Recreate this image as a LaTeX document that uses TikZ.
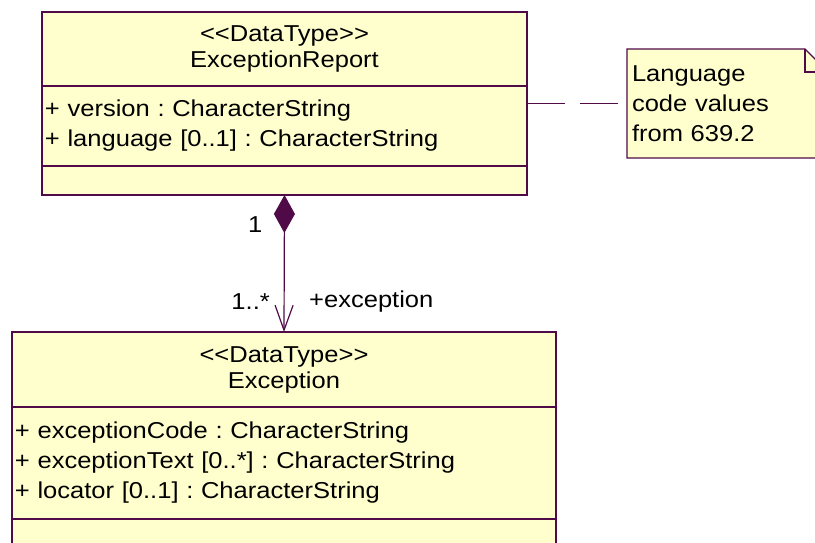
\documentclass[tikz,border=0pt]{standalone}
\usepackage{fontspec}
\setmainfont{Liberation Sans}[FakeStretch=1.11]
\usepackage{tikz}
\usetikzlibrary{arrows.meta, positioning, backgrounds}
\definecolor{colorLine}{RGB}{80,10,72}
\definecolor{colorFill}{RGB}{255,255,206}
\frenchspacing
\tikzset{
  umlline/.style={draw=colorLine, line width=1.2pt},
  umlbox/.style={umlline, fill=colorFill, inner xsep=3pt, inner ysep=0pt, outer sep=0pt},
  namebox/.style={umlbox, align=center, font=\fontsize{23}{26}\selectfont},
  attrbox/.style={umlbox, align=left, font=\fontsize{23}{30}\selectfont},
  notebox/.style={inner xsep=5pt, inner ysep=0pt, outer sep=0pt, align=left, font=\fontsize{23}{30}\selectfont},
  rolelabel/.style={inner sep=0pt, font=\fontsize{23}{26}\selectfont}
}

\begin{document}
\begin{tikzpicture}[x=1pt, y=1pt]
\useasboundingbox (0,0) rectangle (815,-543);
\node[namebox, text width=479pt, minimum height=74pt, anchor=north west] (rptName) at (42,-12) {<{}<DataType>{}>\\ExceptionReport};
\node[attrbox, text width=479pt, minimum height=80pt, below=0pt of rptName] (rptAttr) {+ version : CharacterString\\+ language [0..1] : CharacterString};
\node[umlbox, text width=479pt, minimum height=29pt, below=0pt of rptAttr] (rptOps) {};
\node[namebox, text width=538pt, minimum height=75pt, anchor=north west] (exName) at (12,-332) {<{}<DataType>{}>\\Exception};
\node[attrbox, text width=538pt, minimum height=112pt, below=0pt of exName] (exAttr) {+ exceptionCode : CharacterString\\+ exceptionText [0..*] : CharacterString\\+ locator [0..1] : CharacterString};
\node[umlbox, text width=538pt, minimum height=29pt, below=0pt of exAttr] (exOps) {};
\node[notebox, text width=191pt, minimum height=109pt, anchor=north west] (langNote) at (627,-49) {Language\\code values\\from 639.2};
\begin{scope}[on background layer]
\draw[umlline, fill=colorFill] (langNote.north west) -- ([xshift=-23pt]langNote.north east) -- ([yshift=-23pt]langNote.north east) -- (langNote.south east) -- (langNote.south west) -- cycle;
\end{scope}
\draw[umlline] ([xshift=-23pt]langNote.north east) |- ([yshift=-23pt]langNote.north east);
\draw[umlline, dash pattern=on 38pt off 15pt] (rptAttr.east |- langNote.west) -- (langNote.west);
\draw[umlline, {Diamond[length=38pt, width=21pt]}-{Straight Barb[length=25pt, width=18pt]}] (rptOps.south) -- (exName.north);
\node[rolelabel, anchor=east] (multTop) at ([xshift=-22pt, yshift=-30pt]rptOps.south) {1};
\node[rolelabel, anchor=east] (multBot) at ([xshift=-14pt, yshift=30pt]exName.north) {1..*};
\node[rolelabel, anchor=west] (roleBot) at ([xshift=25pt, yshift=30pt]exName.north) {+exception};
\end{tikzpicture}
\end{document}
